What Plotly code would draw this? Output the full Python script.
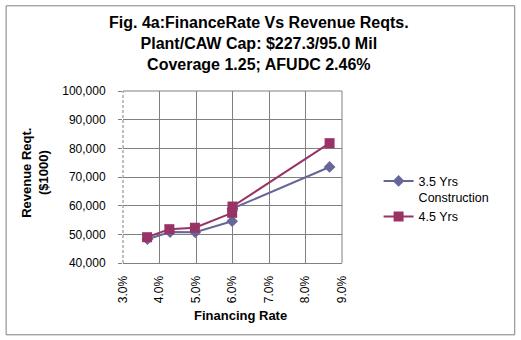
import plotly.graph_objects as go

# Data
rate_35 = [0.0367, 0.0429, 0.0498, 0.0599, 0.0600, 0.0866]
rev_35 = [48300, 50800, 50700, 54600, 59000, 73500]
rate_45 = [0.0366, 0.0427, 0.0497, 0.0599, 0.0600, 0.0866]
rev_45 = [49000, 51800, 52300, 57500, 59700, 81800]
series_names = ["3.5 Yrs<br>Construction", "4.5 Yrs"]
x_ticks = [0.03, 0.04, 0.05, 0.06, 0.07, 0.08, 0.09]
y_ticks = [40000, 50000, 60000, 70000, 80000, 90000, 100000]
title_lines = ["Fig. 4a:FinanceRate Vs Revenue Reqts.",
               "Plant/CAW Cap: $227.3/95.0 Mil",
               "Coverage 1.25; AFUDC 2.46%"]

FONT = "Liberation Sans, Arial, sans-serif"
GRAY = "#808080"
BLUE = "#666699"
RED = "#993366"

W, H = 521, 340
L, R, T, B = 122.7, 342.3, 90.7, 262.7
PW, PH = R - L, B - T

def px(xp):
    return (xp - L) / PW

def py(yp):
    return (B - yp) / PH

fig = go.Figure()
fig.add_trace(go.Scatter(
    x=rate_35, y=rev_35, name=series_names[0], mode="lines+markers",
    line=dict(color=BLUE, width=2),
    marker=dict(symbol="diamond", size=9, color=BLUE),
))
fig.add_trace(go.Scatter(
    x=rate_45, y=rev_45, name=series_names[1], mode="lines+markers",
    line=dict(color=RED, width=2),
    marker=dict(symbol="square", size=10, color=RED),
))

fig.update_layout(
    width=W, height=H,
    margin=dict(l=L, r=W - R, t=T, b=H - B, pad=0),
    paper_bgcolor="white", plot_bgcolor="white",
    font=dict(family=FONT, size=12, color="black"),
    showlegend=True,
    legend=dict(
        x=px(379), y=py(166), xanchor="left", yanchor="top",
        font=dict(family=FONT, size=12.5, color="black"),
        valign="top", bgcolor="rgba(0,0,0,0)", borderwidth=0,
        tracegroupgap=0,
    ),
    xaxis=dict(
        range=[0.03, 0.09], tickvals=x_ticks, tickformat=".1%",
        tickangle=-90, showgrid=False,
        minor=dict(tickvals=x_ticks[1:], showgrid=True, gridcolor=GRAY,
                   gridwidth=1, ticks=""),
        showline=True, linecolor=GRAY, linewidth=1,
        ticks="", ticklabelstandoff=7, zeroline=False,
        tickfont=dict(family=FONT, size=12),
    ),
    yaxis=dict(
        range=[40000, 100000], tickvals=y_ticks, tickformat=",",
        showgrid=True, gridcolor=GRAY, gridwidth=1,
        showline=False, ticks="outside", ticklen=4, tickcolor=GRAY,
        ticklabelstandoff=10, zeroline=False,
        tickfont=dict(family=FONT, size=12),
    ),
    shapes=[
        # dashed left axis line
        dict(type="line", xref="paper", yref="paper", x0=0, x1=0, y0=0, y1=1,
             line=dict(color=GRAY, width=1, dash="3px,2px")),
        # top and right plot border
        dict(type="line", xref="paper", yref="paper", x0=0, x1=1, y0=1, y1=1,
             line=dict(color=GRAY, width=1)),
        dict(type="line", xref="paper", yref="paper", x0=1, x1=1, y0=0, y1=1,
             line=dict(color=GRAY, width=1)),
        # outer chart border
        dict(type="rect", xref="paper", yref="paper",
             x0=px(5.5), x1=px(515.5), y0=py(334.5), y1=py(5.5),
             line=dict(color=GRAY, width=1), fillcolor="rgba(0,0,0,0)",
             layer="below"),
    ],
    annotations=[
        dict(text="<br>".join("<b>" + s + "</b>" for s in title_lines),
             xref="paper", yref="paper",
             x=px(259.5), y=py(43), xanchor="center", yanchor="middle",
             showarrow=False, font=dict(family=FONT, size=16, color="black")),
        dict(text="<b>Financing Rate</b>", xref="paper", yref="paper",
             x=px(240.7), y=py(315), xanchor="center", yanchor="middle",
             showarrow=False, font=dict(family=FONT, size=13, color="black")),
        dict(text="<b>Revenue Reqt.<br>($1000)</b>", xref="paper", yref="paper",
             x=px(35), y=py(173), xanchor="center", yanchor="middle",
             textangle=-90, showarrow=False,
             font=dict(family=FONT, size=13, color="black")),
    ],
)

fig.write_html("out.html")
